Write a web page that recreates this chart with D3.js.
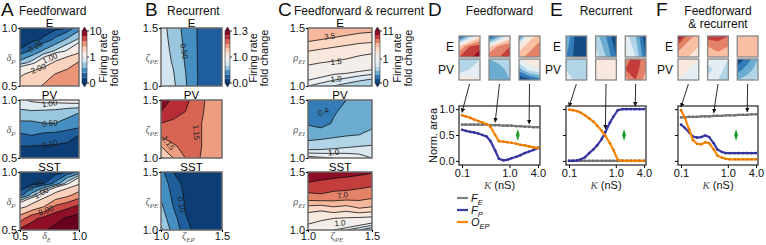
<!DOCTYPE html>
<html>
<head>
<meta charset="utf-8">
<script src="https://cdn.jsdelivr.net/npm/d3@7"></script>
<style>
body { margin: 0; background: #fff; }
text { font-family: "Liberation Sans", Arial, sans-serif; }
.math { font-family: "Liberation Serif", "DejaVu Serif", serif; font-style: italic; fill: #555; }
</style>
</head>
<body>
<svg id="fig" width="766" height="245"></svg>
<script>
// ---------- data ----------
// contour grids: rows go from top of the plot (y max) to bottom (y min), columns left to right
var levelsA = [0, 0.1, 0.25, 0.5, 0.75, 1, 2, 4, 6, 8, 10];
var gridAE = [
  [0.00, 0.02, 0.04, 0.06, 0.10, 0.40],
  [0.02, 0.05, 0.12, 0.30, 0.55, 0.80],
  [0.12, 0.30, 0.55, 0.80, 1.05, 1.60],
  [0.60, 0.85, 1.40, 2.20, 3.00, 4.20],
  [1.80, 2.40, 3.00, 4.10, 4.80, 5.30],
  [2.60, 3.30, 4.20, 5.00, 5.40, 5.80]];
var gridAPV = [
  [0.95, 1.05, 1.10, 1.10, 1.15, 1.20],
  [0.70, 0.72, 0.70, 0.68, 0.60, 0.52],
  [0.45, 0.45, 0.50, 0.50, 0.42, 0.35],
  [0.22, 0.26, 0.20, 0.18, 0.14, 0.10],
  [0.10, 0.095, 0.09, 0.085, 0.08, 0.07],
  [0.05, 0.04, 0.03, 0.03, 0.02, 0.02]];
var gridASST = [
  [0.00, 0.01, 0.02, 0.04, 0.09, 0.30],
  [0.02, 0.05, 0.09, 0.30, 0.90, 1.80],
  [0.15, 0.60, 1.30, 2.50, 3.50, 5.00],
  [1.50, 2.50, 4.00, 6.50, 7.50, 8.50],
  [5.00, 7.50, 8.50, 9.50, 10.3, 11.0],
  [8.50, 9.00, 9.80, 10.5, 11.5, 12.0]];

var levelsB = [0, 0.1, 0.25, 0.5, 0.75, 0.9, 1.0, 1.05, 1.1, 1.15, 1.2, 1.25, 1.3];
var gridBE = [
  [0.85, 0.64, 0.42, 0.24, 0.20, 0.18],
  [0.86, 0.67, 0.44, 0.24, 0.20, 0.18],
  [0.87, 0.70, 0.46, 0.245, 0.20, 0.18],
  [0.88, 0.73, 0.48, 0.245, 0.20, 0.18],
  [0.89, 0.77, 0.51, 0.25, 0.20, 0.18],
  [0.90, 0.80, 0.53, 0.25, 0.20, 0.18]];
var gridBPV = [
  [1.28, 1.24, 1.21, 1.18, 1.13, 1.12],
  [1.25, 1.22, 1.20, 1.17, 1.13, 1.12],
  [1.20, 1.19, 1.18, 1.16, 1.13, 1.12],
  [1.16, 1.18, 1.18, 1.16, 1.13, 1.12],
  [1.10, 1.14, 1.17, 1.16, 1.13, 1.12],
  [1.04, 1.10, 1.15, 1.155, 1.13, 1.12]];
var gridBSST = [
  [0.30, 0.10, 0.06, 0.04, 0.03, 0.03],
  [0.40, 0.15, 0.07, 0.04, 0.03, 0.03],
  [0.45, 0.20, 0.08, 0.04, 0.03, 0.03],
  [0.55, 0.25, 0.09, 0.05, 0.03, 0.03],
  [0.65, 0.32, 0.11, 0.05, 0.03, 0.03],
  [0.80, 0.40, 0.14, 0.06, 0.03, 0.03]];

var levelsC = [0, 0.2, 0.4, 0.6, 0.8, 0.9, 1.0, 1.5, 2.5, 3.5, 5, 7, 9, 11];
var gridCE = [
  [4.8, 4.6, 4.4, 4.2, 4.0, 3.9],
  [3.7, 3.5, 3.3, 3.1, 2.9, 2.8],
  [2.5, 2.3, 2.1, 1.9, 1.7, 1.6],
  [1.6, 1.5, 1.4, 1.3, 1.2, 1.15],
  [1.1, 1.05, 1.0, 0.97, 0.93, 0.9],
  [0.9, 0.85, 0.8, 0.75, 0.7, 0.65]];
var gridCPV = [
  [0.20, 0.25, 0.30, 0.40, 0.50, 0.45],
  [0.25, 0.30, 0.38, 0.45, 0.50, 0.55],
  [0.38, 0.32, 0.42, 0.50, 0.55, 0.58],
  [0.50, 0.52, 0.55, 0.58, 0.60, 0.62],
  [0.70, 0.72, 0.75, 0.78, 0.80, 0.82],
  [1.05, 1.02, 1.00, 0.98, 0.95, 0.90]];
var gridCSST = [
  [10.5, 10.2, 10.0, 9.8, 9.5, 9.2],
  [8.8, 8.5, 8.2, 8.0, 7.8, 7.5],
  [6.5, 6.8, 6.4, 6.3, 6.0, 5.6],
  [3.2, 3.0, 3.5, 3.2, 3.8, 3.5],
  [1.8, 1.6, 1.5, 1.4, 1.3, 1.2],
  [1.2, 1.1, 1.0, 0.9, 0.8, 0.7]];

// contour labels: text, x, y, angle
var labAE = [["0.25", 0.63, 0.84, -28], ["1.00", 0.754, 0.74, -22], ["2.00", 0.655, 0.65, -22]];
var labAPV = [["1.00", 0.75, 0.97, -8], ["0.50", 0.754, 0.80, -5], ["0.10", 0.754, 0.62, -12]];
var labASST = [["0.10", 0.63, 0.89, -35], ["1.00", 0.68, 0.82, -30], ["8.00", 0.72, 0.67, -22]];
var labBE = [["0.50", 1.19, 1.30, 80]];
var labBPV = [["1.15", 1.29, 1.22, 85], ["1.15", 1.06, 1.13, 55]];
var labBSST = [["0.10", 1.17, 1.22, 80]];
var labCE = [["3.5", 1.17, 1.43, -5], ["1.5", 1.22, 1.21, -5], ["1.0", 1.22, 1.06, -5]];
var labCPV = [["0.4", 1.12, 1.40, -20], ["1.0", 1.20, 1.05, -5]];
var labCSST = [["7.0", 1.27, 1.30, -8], ["1.0", 1.25, 1.06, -5]];

// thumbnails (fold change, 3x3 each)
var thumbLevels = [0, 0.2, 0.4, 0.6, 0.8, 1.0, 1.2, 1.4, 1.6, 1.8, 2.0];
var thumbD_E = [
  [[0.0, 0.6, 1.1], [1.2, 1.6, 1.7], [1.6, 1.7, 2.0]],
  [[0.0, 0.5, 1.0], [1.1, 1.5, 1.6], [1.6, 1.6, 1.6]],
  [[0.2, 1.1, 1.3], [1.1, 1.3, 1.5], [1.3, 1.5, 1.6]]];
var thumbD_PV = [
  [[0.7, 0.6, 0.8], [0.6, 0.8, 0.9], [1.2, 1.1, 1.0]],
  [[0.6, 0.7, 0.8], [0.4, 0.5, 0.7], [0.5, 0.4, 0.6]],
  [[1.0, 1.1, 1.0], [0.5, 0.9, 1.0], [0.0, 0.1, 0.3]]];
var thumbE_E = [
  [[0.6, 0.1, 0.0], [0.5, 0.1, 0.0], [0.4, 0.1, 0.0]],
  [[0.7, 0.4, 0.0], [0.8, 0.5, 0.1], [0.9, 0.6, 0.2]],
  [[0.9, 0.6, 0.0], [1.0, 0.7, 0.1], [1.0, 0.8, 0.2]]];
var thumbE_PV = [
  [[0.8, 0.7, 0.7], [0.8, 0.7, 0.7], [0.9, 0.75, 0.7]],
  [[1.1, 1.15, 1.05], [1.2, 1.15, 1.05], [1.05, 1.1, 1.0]],
  [[1.5, 1.7, 1.5], [1.6, 1.7, 1.4], [1.3, 1.6, 1.3]]];
var thumbF_E = [
  [[2.0, 1.5, 1.3], [1.5, 1.3, 1.2], [1.3, 1.2, 1.1]],
  [[1.7, 1.7, 1.6], [1.4, 1.5, 1.4], [1.2, 1.3, 1.3]],
  [[1.4, 1.4, 1.4], [1.3, 1.3, 1.3], [1.2, 1.2, 1.2]]];
var thumbF_PV = [
  [[1.1, 1.05, 1.0], [1.05, 1.0, 0.95], [1.0, 0.95, 0.9]],
  [[0.9, 0.85, 0.8], [0.7, 0.9, 0.7], [0.9, 0.8, 0.6]],
  [[0.0, 0.3, 0.6], [0.3, 0.5, 0.7], [0.6, 0.7, 0.85]]];

// normalised areas vs coupling K (nS)
var K = [0.1, 0.12, 0.15, 0.18, 0.22, 0.27, 0.33, 0.4, 0.5, 0.6, 0.75, 0.9, 1.1, 1.4, 1.7, 2.1, 2.6, 3.2, 4.0];
var FE_D = [0.70, 0.70, 0.70, 0.70, 0.70, 0.70, 0.70, 0.69, 0.69, 0.69, 0.68, 0.68, 0.68, 0.67, 0.67, 0.66, 0.66, 0.65, 0.65];
var FP_D = [0.60, 0.58, 0.56, 0.55, 0.53, 0.50, 0.47, 0.38, 0.20, 0.04, 0.01, 0.02, 0.05, 0.08, 0.11, 0.15, 0.18, 0.21, 0.25];
var OEP_D = [0.88, 0.86, 0.83, 0.80, 0.77, 0.74, 0.71, 0.66, 0.50, 0.38, 0.37, 0.36, 0.35, 0.33, 0.31, 0.30, 0.28, 0.26, 0.25];
var FE_E = [0, 0, 0, 0, 0, 0, 0, 0, 0, 0, 0, 0, 0, 0, 0, 0, 0, 0, 0];
var FP_E = [0.00, 0.00, 0.01, 0.03, 0.07, 0.15, 0.22, 0.30, 0.42, 0.56, 0.74, 0.86, 0.98, 1.00, 1.00, 1.00, 1.00, 1.00, 1.00];
var OEP_E = [0.99, 0.98, 0.96, 0.93, 0.88, 0.82, 0.76, 0.68, 0.58, 0.48, 0.34, 0.20, 0.02, 0.00, 0.00, 0.00, 0.00, 0.00, 0.00];
var FE_F = [0.84, 0.84, 0.85, 0.85, 0.85, 0.86, 0.86, 0.86, 0.87, 0.87, 0.87, 0.88, 0.88, 0.88, 0.89, 0.89, 0.89, 0.90, 0.90];
var FP_F = [0.70, 0.64, 0.55, 0.47, 0.45, 0.46, 0.49, 0.46, 0.34, 0.22, 0.17, 0.15, 0.15, 0.15, 0.15, 0.15, 0.15, 0.15, 0.15];
var OEP_F = [0.98, 0.84, 0.60, 0.40, 0.33, 0.32, 0.36, 0.34, 0.22, 0.10, 0.06, 0.04, 0.03, 0.03, 0.03, 0.03, 0.03, 0.03, 0.03];
var thumbK_D = [0.1, 0.5, 2.6];
var thumbK_E = [0.1, 0.6, 2.6];
var thumbK_F = [0.1, 0.5, 2.6];
var refPoint = [1.5, 0.5];   // green diamond

// ---------- helpers ----------
var svg = d3.select("#fig");
var clipId = 0;

function cmap(t) { return d3.interpolateRdBu(1 - Math.max(0, Math.min(1, t))); }
function makeNorm(vmin, vc, vmax) {
  return function(v) {
    return v <= vc ? 0.5 * (v - vmin) / (vc - vmin) : 0.5 + 0.5 * (v - vc) / (vmax - vc);
  };
}

function drawField(g, x0, x1, y0, y1, grid, levels, norm, lines) {
  var ny = grid.length, nx = grid[0].length;
  var gx = d3.scaleLinear().domain([0.5, nx - 0.5]).range([x0, x1]);
  var gy = d3.scaleLinear().domain([0.5, ny - 0.5]).range([y0, y1]);
  var proj = d3.geoTransform({point: function(px, py) { this.stream.point(gx(px), gy(py)); }});
  var path = d3.geoPath(proj);
  var polys = d3.contours().size([nx, ny]).thresholds(levels)(d3.merge(grid));
  var id = "clip" + (clipId++);
  g.append("clipPath").attr("id", id).append("rect")
    .attr("x", x0).attr("y", y0).attr("width", x1 - x0).attr("height", y1 - y0);
  var inner = g.append("g").attr("clip-path", "url(#" + id + ")");
  inner.selectAll("path.fill").data(polys).join("path")
    .attr("class", "fill")
    .attr("d", path)
    .attr("fill", function(d, i) {
      if (i >= levels.length - 1) return cmap(1.05);
      return cmap(norm((levels[i] + levels[i + 1]) / 2));
    });
  if (lines) {
    inner.selectAll("path.line").data(polys.slice(1)).join("path")
      .attr("class", "line")
      .attr("d", path)
      .attr("fill", "none")
      .attr("stroke", "#111")
      .attr("stroke-width", 0.8);
  }
}

function contourPlot(o) {
  var g = svg.append("g");
  var xs = d3.scaleLinear().domain(o.xDom).range([o.x0, o.x1]);
  var ys = d3.scaleLinear().domain(o.yDom).range([o.y1, o.y0]);
  drawField(g, o.x0, o.x1, o.y0, o.y1, o.grid, o.levels, o.norm, true);
  g.selectAll("text.clab").data(o.labels).join("text")
    .attr("class", "clab")
    .attr("transform", function(d) { return "translate(" + xs(d[1]) + "," + ys(d[2]) + ") rotate(" + d[3] + ")"; })
    .attr("text-anchor", "middle").attr("dy", "0.35em")
    .attr("font-size", 8).attr("fill", "#222")
    .text(function(d) { return d[0]; });
  g.append("rect").attr("x", o.x0).attr("y", o.y0)
    .attr("width", o.x1 - o.x0).attr("height", o.y1 - o.y0)
    .attr("fill", "none").attr("stroke", "#6a6a6a").attr("stroke-width", 1.5);
  // title
  g.append("text").attr("x", (o.x0 + o.x1) / 2).attr("y", o.y0 - 1.5)
    .attr("text-anchor", "middle").attr("font-size", 11.5).text(o.title);
  // y axis
  var ya = g.append("g").attr("transform", "translate(" + o.x0 + ",0)")
    .call(d3.axisLeft(ys).tickValues(o.yDom).tickFormat(d3.format(".1f")).tickSize(2).tickPadding(1));
  ya.select(".domain").remove();
  ya.selectAll("text").attr("font-size", 11).attr("fill", "#111");
  var yl = g.append("text").attr("class", "math").attr("x", o.x0 - 9).attr("y", (o.y0 + o.y1) / 2 + 4)
    .attr("text-anchor", "middle").attr("font-size", 10.5);
  yl.append("tspan").text(o.ySym);
  yl.append("tspan").attr("font-size", 7).attr("dy", 3).text(o.ySub);
  if (o.xAxis) {
    var xa = g.append("g").attr("transform", "translate(0," + o.y1 + ")")
      .call(d3.axisBottom(xs).tickValues(o.xDom).tickFormat(d3.format(".1f")).tickSize(2).tickPadding(0));
    xa.select(".domain").remove();
    xa.selectAll("text").attr("font-size", 11).attr("fill", "#111");
    var xl = g.append("text").attr("class", "math").attr("x", (o.x0 + o.x1) / 2 - 3).attr("y", o.y1 + 9)
      .attr("text-anchor", "middle").attr("font-size", 10.5);
    xl.append("tspan").text(o.xSym);
    xl.append("tspan").attr("font-size", 7).attr("dy", 3).text(o.xSub);
  }
}

function colorbar(x, y0, y1, levels, norm, ticks, tickText) {
  var g = svg.append("g");
  var w = 5, nb = levels.length - 1;
  var cs = d3.scaleLinear().domain([0, nb]).range([y1, y0]);
  g.selectAll("rect").data(d3.range(nb)).join("rect")
    .attr("x", x).attr("width", w)
    .attr("y", function(i) { return cs(i + 1); })
    .attr("height", function(i) { return cs(i) - cs(i + 1); })
    .attr("fill", function(i) { return cmap(norm((levels[i] + levels[i + 1]) / 2)); });
  g.append("path").attr("d", "M" + x + "," + y0 + "L" + (x + w / 2) + "," + (y0 - 4) + "L" + (x + w) + "," + y0 + "Z")
    .attr("fill", cmap(1.05));
  g.append("path").attr("d", "M" + x + "," + y1 + "L" + (x + w / 2) + "," + (y1 + 4) + "L" + (x + w) + "," + y1 + "Z")
    .attr("fill", cmap(-0.05));
  g.append("path")
    .attr("d", "M" + x + "," + y0 + "L" + (x + w / 2) + "," + (y0 - 4) + "L" + (x + w) + "," + y0 +
      "L" + (x + w) + "," + y1 + "L" + (x + w / 2) + "," + (y1 + 4) + "L" + x + "," + y1 + "Z")
    .attr("fill", "none").attr("stroke", "#333").attr("stroke-width", 0.6);
  ticks.forEach(function(v, k) {
    var yy = cs(levels.indexOf(v));
    g.append("line").attr("x1", x + w).attr("x2", x + w + 2).attr("y1", yy).attr("y2", yy).attr("stroke", "#333");
    g.append("text").attr("x", x + w + 2.5).attr("y", yy).attr("dy", "0.35em")
      .attr("font-size", 11).attr("fill", "#111").text(tickText[k]);
  });
}

function sideLabel(xa, xb, yc) {
  [["Firing rate", xa], ["fold change", xb]].forEach(function(d) {
    svg.append("text").attr("transform", "translate(" + d[1] + "," + yc + ") rotate(-90)")
      .attr("text-anchor", "middle").attr("font-size", 11).attr("fill", "#111").text(d[0]);
  });
}

function heading(letter, lx, title, tx) {
  svg.append("text").attr("x", lx).attr("y", 16).attr("font-size", 19).attr("fill", "#111").text(letter);
  svg.append("text").attr("x", tx).attr("y", 15).attr("font-size", 12).attr("fill", "#111").text(title);
}

// ---------- panels A-C ----------
var rowY = [[28, 86], [100, 158], [172, 230]];
var titles = ["E", "PV", "SST"];

var normA = makeNorm(0, 1, 10);
var normB = makeNorm(0, 1, 1.3);
var normC = makeNorm(0, 1, 11);

var panels = [
  {x0: 20, x1: 79, dom: [0.5, 1.0], grids: [gridAE, gridAPV, gridASST], labs: [labAE, labAPV, labASST],
   levels: levelsA, norm: normA, ySym: "δ", ySub: "P", xSym: "δ", xSub: "E"},
  {x0: 161, x1: 222, dom: [1.0, 1.5], grids: [gridBE, gridBPV, gridBSST], labs: [labBE, labBPV, labBSST],
   levels: levelsB, norm: normB, ySym: "ζ", ySub: "PE", xSym: "ζ", xSub: "EP"},
  {x0: 308, x1: 372, dom: [1.0, 1.5], grids: [gridCE, gridCPV, gridCSST], labs: [labCE, labCPV, labCSST],
   levels: levelsC, norm: normC, ySym: "ρ", ySub: "EI", xSym: "ζ", xSub: "PE"}
];
panels.forEach(function(p) {
  rowY.forEach(function(r, k) {
    contourPlot({x0: p.x0, x1: p.x1, y0: r[0], y1: r[1], xDom: p.dom, yDom: p.dom,
      grid: p.grids[k], levels: p.levels, norm: p.norm, labels: p.labs[k], title: titles[k],
      ySym: p.ySym, ySub: p.ySub, xSym: p.xSym, xSub: p.xSub, xAxis: k === 2});
  });
});

colorbar(82, 31, 83, levelsA, normA, [10, 1, 0], ["10", "1", "0"]);
colorbar(225, 31, 83, levelsB, normB, [1.3, 1.0, 0], ["1.3", "1.0", "0.0"]);
colorbar(375, 31, 83, levelsC, normC, [11, 1, 0], ["11", "1", "0"]);
sideLabel(107, 118, 58);
sideLabel(257, 268, 58);
sideLabel(401, 412, 58);

heading("A", 1, "Feedforward", 19);
heading("B", 145, "Recurrent", 167);
heading("C", 278, "Feedforward & recurrent", 294);

// ---------- panels D-F ----------
var normT = makeNorm(0, 1, 2);
var colE = "#7f7f7f", colP = "#3a3aaa", colO = "#ff8800";

svg.append("defs").append("marker").attr("id", "arr")
  .attr("viewBox", "0 0 10 10").attr("refX", 9).attr("refY", 5)
  .attr("markerWidth", 5).attr("markerHeight", 5).attr("orient", "auto")
  .append("path").attr("d", "M0,0L10,5L0,10Z").attr("fill", "#111");

function linePanel(o) {
  var g = svg.append("g");
  var y0 = 106, y1 = 165;
  var x = d3.scaleLog().domain([0.1, 4]).range([o.x0 + 3, o.x1 - 2]);
  var y = d3.scaleLinear().domain([-0.08, 1.06]).range([y1, y0]);
  var xb = d3.scaleBand().domain([0, 1, 2]).range([o.x0, o.x1]).paddingInner(0.3);

  // title
  o.title.forEach(function(t, k) {
    g.append("text").attr("x", (o.x0 + o.x1) / 2).attr("y", 15 + 12.5 * k)
      .attr("text-anchor", "middle").attr("font-size", 12).attr("fill", "#111").text(t);
  });
  g.append("text").attr("x", o.lx).attr("y", 16).attr("font-size", 19).attr("fill", "#111").text(o.letter);

  // thumbnails
  [[o.thE, 36, "E"], [o.thPV, 59, "PV"]].forEach(function(row) {
    row[0].forEach(function(grid, i) {
      drawField(g, xb(i), xb(i) + xb.bandwidth(), row[1], row[1] + 21, grid, thumbLevels, normT, false);
      g.append("rect").attr("x", xb(i)).attr("y", row[1]).attr("width", xb.bandwidth()).attr("height", 21)
        .attr("fill", "none").attr("stroke", "#888").attr("stroke-width", 1.3);
    });
    g.append("text").attr("x", o.x0 - 5).attr("y", row[1] + 10.5).attr("dy", "0.35em")
      .attr("text-anchor", "end").attr("font-size", 12).attr("fill", "#111").text(row[2]);
  });

  // axes
  var xa = g.append("g").attr("transform", "translate(0," + y1 + ")")
    .call(d3.axisBottom(x).tickValues([0.1, 1, 4]).tickFormat(d3.format(".1f")).tickSize(3).tickPadding(1.5));
  xa.select(".domain").remove();
  xa.selectAll("text").attr("font-size", 11).attr("fill", "#111");
  var ya = g.append("g").attr("transform", "translate(" + o.x0 + ",0)")
    .call(d3.axisLeft(y).tickValues([0, 0.5, 1]).tickFormat(o.yLabels ? d3.format(".1f") : "").tickSize(3).tickPadding(1.5));
  ya.select(".domain").remove();
  ya.selectAll("text").attr("font-size", 11).attr("fill", "#111");
  var kl = g.append("text").attr("x", (o.x0 + o.x1) / 2).attr("y", 189)
    .attr("text-anchor", "middle").attr("font-size", 11).attr("fill", "#111");
  kl.append("tspan").attr("class", "math").attr("fill", "#111").text("K");
  kl.append("tspan").text(" (nS)");
  if (o.yLabels) {
    g.append("text").attr("transform", "translate(" + (o.x0 - 22) + "," + (y0 + y1) / 2 + ") rotate(-90)")
      .attr("text-anchor", "middle").attr("font-size", 11).attr("fill", "#111").text("Norm. area");
  }

  // series
  var line = d3.line().x(function(d) { return x(d[0]); }).y(function(d) { return y(d[1]); });
  [[o.fe, colE], [o.fp, colP], [o.oep, colO]].forEach(function(s) {
    var pts = K.map(function(k, i) { return [k, s[0][i]]; });
    g.append("path").datum(pts).attr("d", line).attr("fill", "none")
      .attr("stroke", s[1]).attr("stroke-width", 2.2);
    g.selectAll(null).data(pts).join("circle")
      .attr("cx", function(d) { return x(d[0]); }).attr("cy", function(d) { return y(d[1]); })
      .attr("r", 1.3).attr("fill", d3.color(s[1]).darker(0.4));
  });
  g.append("path")
    .attr("transform", "translate(" + x(refPoint[0]) + "," + y(refPoint[1]) + ") scale(0.7,1.25)")
    .attr("d", d3.symbol(d3.symbolDiamond, 26)()).attr("fill", "#1e9e2a");

  g.append("rect").attr("x", o.x0).attr("y", y0).attr("width", o.x1 - o.x0).attr("height", y1 - y0)
    .attr("fill", "none").attr("stroke", "#222").attr("stroke-width", 1.2);

  // arrows from thumbnails to the curves
  o.thK.forEach(function(k, i) {
    var idx = K.indexOf(k);
    var top = Math.max(o.fe[idx], o.fp[idx], o.oep[idx]);
    g.append("line")
      .attr("x1", xb(i) + xb.bandwidth() / 2).attr("y1", 84)
      .attr("x2", x(k)).attr("y2", y(top) - 3)
      .attr("stroke", "#111").attr("stroke-width", 0.9).attr("marker-end", "url(#arr)");
  });
}

linePanel({x0: 459, x1: 540, letter: "D", lx: 428, title: ["Feedforward"], thE: thumbD_E, thPV: thumbD_PV,
  fe: FE_D, fp: FP_D, oep: OEP_D, thK: thumbK_D, yLabels: true});
linePanel({x0: 566, x1: 646, letter: "E", lx: 550, title: ["Recurrent"], thE: thumbE_E, thPV: thumbE_PV,
  fe: FE_E, fp: FP_E, oep: OEP_E, thK: thumbK_E, yLabels: false});
linePanel({x0: 678, x1: 758, letter: "F", lx: 656, title: ["Feedforward", "& recurrent"], thE: thumbF_E, thPV: thumbF_PV,
  fe: FE_F, fp: FP_F, oep: OEP_F, thK: thumbK_F, yLabels: false});

// legend
var legend = [["F", "E", colE], ["F", "P", colP], ["O", "EP", colO]];
legend.forEach(function(d, i) {
  var yy = 198 + 12 * i;
  svg.append("line").attr("x1", 457).attr("x2", 468).attr("y1", yy).attr("y2", yy)
    .attr("stroke", d[2]).attr("stroke-width", 2.2);
  var t = svg.append("text").attr("x", 471).attr("y", yy + 4).attr("font-size", 11)
    .attr("font-style", "italic").attr("fill", "#111");
  t.append("tspan").text(d[0]);
  t.append("tspan").attr("font-size", 7.5).attr("dy", 2.5).text(d[1]);
});
</script>
</body>
</html>
